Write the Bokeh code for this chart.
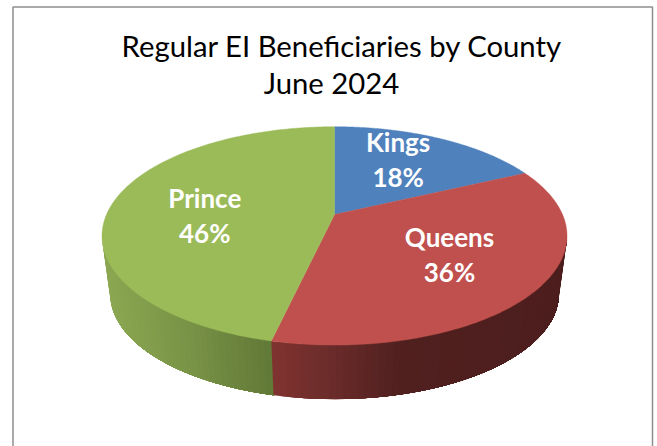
import numpy as np
from bokeh.plotting import figure
from bokeh.models import Range1d
from bokeh.core.properties import value
from bokeh.embed import file_html
from bokeh.resources import INLINE

counties = ["Kings", "Queens", "Prince"]
shares = [18.0, 35.6, 46.4]
percent_labels = ["18%", "36%", "46%"]
title_lines = ["Regular EI Beneficiaries by County", "June 2024"]

top_colors = ["#4f81bd", "#c0504d", "#9bbb59"]
# wall shading: (page x, rgb) stops
wall_stops = [
    None,
    [(273, (128, 51, 48)), (330, (106, 44, 42)), (400, (80, 32, 31)), (567, (76, 30, 29))],
    [(101, (140, 168, 82)), (190, (120, 146, 70)), (273, (96, 120, 54))],
]
label_r = [0.57, 0.60, 0.58]
label_dy = [-9.5, -3, 7]

W, H = 657, 446
p = figure(width=W, height=H, output_backend="svg", toolbar_location=None,
           x_range=Range1d(0, W), y_range=Range1d(H, 0),
           min_border=0, outline_line_color=None, background_fill_color="white",
           border_fill_color="white")
p.xaxis.visible = False
p.yaxis.visible = False
p.grid.visible = False

CX, CY, A, B, K = 334.0, 214.0, 228.0, 105.0, 0.196
LOW_CY, LOW_S = 272.6, 0.965


def top(theta, r=1.0):
    s, c = np.sin(theta), np.cos(theta)
    d = 1 + K * r * c
    return CX + A * r * s / d, CY - B * r * c / d


def low(theta):
    s, c = np.sin(theta), np.cos(theta)
    d = 1 + K * c
    return CX + LOW_S * A * s / d, LOW_CY - LOW_S * B * c / d


edges = np.concatenate([[0], np.cumsum(shares)]) / np.sum(shares) * 2 * np.pi
visible_from = np.arccos(-K)
visible_to = 2 * np.pi - visible_from


def shade(stops, x):
    xs = [a for a, _ in stops]
    rgb = [int(round(np.interp(x, xs, [c[i] for _, c in stops]))) for i in range(3)]
    return "#%02x%02x%02x" % tuple(rgb)


# side walls: each strip reaches back to the slice's start, so no seams show
for i in [2, 1]:
    stops = wall_stops[i]
    a0, a1 = max(edges[i], visible_from), min(edges[i + 1], visible_to)
    n = int(abs(a1 - a0) / np.radians(1.5)) + 1
    ts = np.linspace(a0, a1, n + 1)[::-1]
    for t0, t1 in zip(ts[:-1], ts[1:]):
        tt = np.linspace(t0, a0, 40)
        tx, ty = top(tt)
        lx, ly = low(tt)
        col = shade(stops, top((t0 + t1) / 2)[0])
        p.patch(np.r_[tx, lx[::-1]], np.r_[ty, ly[::-1]], fill_color=col, line_color=None)

# top faces
for i, col in enumerate(top_colors):
    ts = np.linspace(edges[i], edges[i + 1], 160)
    x, y = top(ts)
    p.patch(np.r_[CX, x], np.r_[CY, y], fill_color=col, line_color=col, line_width=0.4)

# slice labels
for i, name in enumerate(counties):
    mid = (edges[i] + edges[i + 1]) / 2
    x, y = top(mid, label_r[i])
    y = y + label_dy[i]
    p.text([x], [y], text=[name], text_font=value("Lato"), text_font_style="bold",
           text_font_size="26px", text_color="white", text_align="center",
           text_baseline="middle", y_offset=-17)
    p.text([x], [y], text=[percent_labels[i]], text_font=value("Lato"), text_font_style="bold",
           text_font_size="26px", text_color="white", text_align="center",
           text_baseline="middle", y_offset=18)

# title
for line, xx, yy in zip(title_lines, [341.5, 331], [44.5, 82]):
    p.text([xx], [yy], text=[line], text_font=value("Lato"), text_font_size="29.3px",
           text_color="black", text_align="center", text_baseline="middle")

# chart-area frame
fx0, fx1, fy0 = 12.5, 652.0, 6.5
p.line([fx0, fx0, fx1, fx1], [H, fy0, fy0, H], line_color="#8e8e8e", line_width=1.5)

open("out.html", "w").write(file_html(p, INLINE))
